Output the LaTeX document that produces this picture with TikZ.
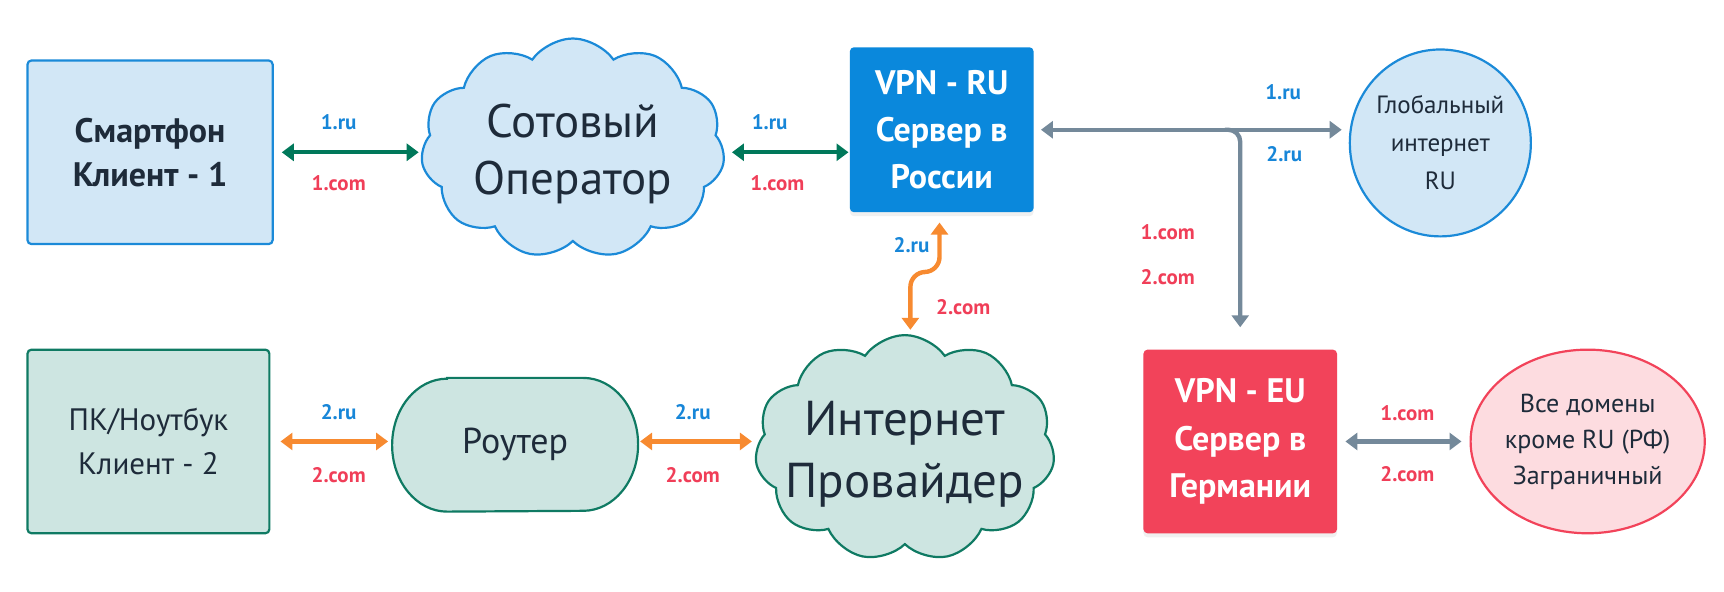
\documentclass[tikz,border=0pt]{standalone}
\usepackage{fontspec}
\setmainfont{PT Sans}
\usetikzlibrary{shapes.symbols,shapes.geometric,arrows.meta,shadows,calc}
\definecolor{bblue}{HTML}{1B8AD8}
\definecolor{bfill}{HTML}{D2E7F6}
\definecolor{vblue}{HTML}{0A88DC}
\definecolor{tealb}{HTML}{0F7A63}
\definecolor{tfill}{HTML}{CDE5E1}
\definecolor{garrow}{HTML}{00785A}
\definecolor{oarrow}{HTML}{F78A30}
\definecolor{grarrow}{HTML}{74899A}
\definecolor{rred}{HTML}{F2435A}
\definecolor{pfill}{HTML}{FDDCE0}
\definecolor{dtext}{HTML}{1E2B3A}
\definecolor{lblue}{HTML}{1786D8}
\definecolor{lred}{HTML}{F03E58}
\begin{document}
\begin{tikzpicture}[x=0.55pt,y=-0.55pt,
  box/.style={draw, line width=1.1pt, rounded corners=2pt, align=center, inner sep=0pt, text=dtext},
  vpnbox/.style={rounded corners=2pt, align=center, inner sep=0pt, text=white,
     font=\bfseries\fontsize{17}{23.6}\selectfont,
     drop shadow={opacity=0.12, shadow xshift=0pt, shadow yshift=-2pt}},
  cloudbox/.style={cloud, cloud puffs=11, cloud puff arc=110, draw, line width=1.1pt,
     inner sep=0pt},
  cloudtext/.style={align=center, text=dtext, inner sep=0pt},
  note/.style={font=\bfseries\fontsize{10.5}{12}\selectfont, inner sep=1pt},
  ru/.style={note, text=lblue},
  com/.style={note, text=lred},
  conn/.style={line width=2.2pt, {Triangle[length=6pt,width=8.5pt]}-{Triangle[length=6pt,width=8.5pt]}},
  oneway/.style={line width=2.2pt, -{Triangle[length=6pt,width=8.5pt]}}
]
\useasboundingbox (0,0) rectangle (1568,538);

% nodes
\node[box, draw=bblue, fill=bfill, minimum width=122.65pt, minimum height=91.85pt,
  font=\bfseries\fontsize{17}{22}\selectfont] (sp) at (136.5,138.5) {Смартфон\\Клиент - 1};
\node[cloudbox, draw=bblue, fill=bfill, aspect=1.4, minimum width=152pt, minimum height=110pt,
  label={[cloudtext, yshift=-3pt, font=\fontsize{23.5}{28.5}\selectfont]center:Сотовый\\Оператор}] (cell) at (521,135) {};
\node[vpnbox, fill=vblue, minimum width=91.85pt, minimum height=82.5pt] (vru) at (856.5,118)
  {VPN - RU\\Сервер в\\России};
\node[ellipse, draw=bblue, fill=bfill, line width=1.1pt, minimum width=84.7pt, minimum height=93.5pt,
  inner sep=0pt, align=center, text=dtext, font=\fontsize{12.5}{19}\selectfont] (glob) at (1310,130)
  {Глобальный\\интернет\\RU};

\node[box, draw=tealb, fill=tfill, minimum width=121pt, minimum height=91.85pt,
  font=\fontsize{15.5}{22}\selectfont] (pc) at (135,401.5) {ПК/Ноутбук\\Клиент - 2};
\node[rectangle, minimum width=122.65pt, minimum height=66.5pt, inner sep=0pt] (rt) at (468.5,404.5) {};
\filldraw[draw=tealb, fill=tfill, line width=1.1pt]
  ($(rt.north west)+(50,0)$) -- ($(rt.north east)+(-50,0)$)
  arc[start angle=90, end angle=-90, x radius=27.5pt, y radius=33.25pt]
  -- ($(rt.south west)+(50,0)$)
  arc[start angle=-90, end angle=-270, x radius=27.5pt, y radius=33.25pt] -- cycle;
\node[text=dtext, font=\fontsize{18}{20}\selectfont, inner sep=0pt] (rtt) at (rt.center) {Роутер};
\node[cloudbox, draw=tealb, fill=tfill, aspect=1.35, minimum width=150pt, minimum height=113pt,
  label={[cloudtext, yshift=-3pt, font=\fontsize{24.5}{31}\selectfont]center:Интернет\\Провайдер}] (isp) at (823,407.5) {};
\node[vpnbox, fill=rred, minimum width=96.8pt, minimum height=91.85pt] (veu) at (1128,401.5)
  {VPN - EU\\Сервер в\\Германии};
\node[ellipse, draw=rred, fill=pfill, line width=1.1pt, minimum width=114.4pt, minimum height=91.85pt,
  inner sep=0pt, align=center, text=dtext, font=\fontsize{13}{18}\selectfont] (fgn) at (1444,401.5)
  {Все домены\\кроме RU (РФ)\\Заграничный};

% connectors
\draw[conn, garrow, shorten <=4pt, shorten >=1.5pt] (sp.east) -- (sp.east -| cell.west);
\draw[conn, garrow, shorten <=4pt, shorten >=0.5pt] (cell.east |- sp.east) -- (vru.west |- sp.east);
\draw[conn, grarrow, shorten <=3.5pt, shorten >=3.5pt] (vru.east) -- (vru.east -| glob.west);
\draw[oneway, grarrow, rounded corners=6pt, shorten >=11pt]
  ($(vru.east -| veu.north)+(-14,0)$) -- (vru.east -| veu.north) -- (veu.north);
\draw[conn, oarrow, rounded corners=7.5pt, shorten <=5pt, shorten >=1pt]
  ($(vru.south)+(-2,0)$) -- ++(0,54) -| ($(isp.north)+(5,-2)$);
\draw[conn, oarrow, shorten <=5pt, shorten >=2pt] (pc.east) -- (pc.east -| rt.west);
\draw[conn, oarrow, shorten <=1pt, shorten >=2pt] (rt.east |- pc.east) -- (isp.west |- pc.east);
\draw[conn, grarrow, shorten <=4pt, shorten >=4pt] (veu.east) -- (fgn.west);

% labels
\node[ru] (l1) at (308,111) {1.ru};
\node[com] (l2) at (308,167) {1.com};
\node[ru] (l3) at (700,111) {1.ru};
\node[com] (l4) at (707,167) {1.com};
\node[ru] (l5) at (1167,84) {1.ru};
\node[ru] (l6) at (1168,140) {2.ru};
\node[com] (l7) at (1062,211) {1.com};
\node[com] (l8) at (1062,252) {2.com};
\node[ru] (l9) at (829,223) {2.ru};
\node[com] (l10) at (876,279) {2.com};
\node[ru] (l11) at (308,375) {2.ru};
\node[com] (l12) at (308,432) {2.com};
\node[ru] (l13) at (630,375) {2.ru};
\node[com] (l14) at (630,432) {2.com};
\node[com] (l15) at (1280,376) {1.com};
\node[com] (l16) at (1280,431) {2.com};
\end{tikzpicture}
\end{document}
